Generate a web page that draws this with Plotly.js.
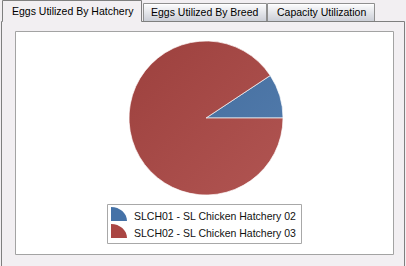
<!DOCTYPE html>
<html>
<head>
<meta charset="utf-8">
<script src="https://cdn.plot.ly/plotly-3.0.1.min.js"></script>
<style>
  html, body { margin: 0; padding: 0; background: #f2eff2; }
  #chart { width: 406px; height: 266px; }
</style>
</head>
<body>
<div id="chart"></div>
<script>
// Eggs utilized per hatchery (share of total)
const hatcheryLabels = ['SLCH01 - SL Chicken Hatchery 02', 'SLCH02 - SL Chicken Hatchery 03'];
const eggsUtilized = [9.3, 90.7];
const sliceColors = ['#4572A7', '#AA4643'];
const tabLabels = ['Eggs Utilized By Hatchery', 'Eggs Utilized By Breed', 'Capacity Utilization'];

const W = 406, H = 266;
const X = p => p / W;          // pixel -> paper x
const Y = p => 1 - p / H;      // pixel -> paper y
const FONT = 'Liberation Sans, Arial, sans-serif';

const shapes = [];
const annotations = [];

function rect(x0, y0, x1, y1, fill, line, layer) {
  shapes.push({
    type: 'rect', xref: 'paper', yref: 'paper',
    x0: X(x0), x1: X(x1), y0: Y(y0), y1: Y(y1),
    fillcolor: fill, line: line ? { color: line, width: 1 } : { width: 0 },
    layer: layer || 'below'
  });
}
function seg(x0, y0, x1, y1, color) {
  shapes.push({
    type: 'line', xref: 'paper', yref: 'paper',
    x0: X(x0), x1: X(x1), y0: Y(y0), y1: Y(y1),
    line: { color: color, width: 1 }, layer: 'below'
  });
}
function mix(a, b, t) {
  const pa = a.match(/\w\w/g).map(h => parseInt(h, 16));
  const pb = b.match(/\w\w/g).map(h => parseInt(h, 16));
  return 'rgb(' + pa.map((v, i) => Math.round(v + (pb[i] - v) * t)).join(',') + ')';
}

// Inactive tabs: vertical gradient built from thin strips
const inactiveTabs = [[143.5, 266.5], [267.5, 374.5]];
inactiveTabs.forEach(([a, b]) => {
  for (let y = 4; y < 21; y++) {
    rect(a, y, b, y + 1, mix('fbfbfc', 'cdd0d8', (y - 4) / 16), null);
  }
  seg(a, 3.5, b, 3.5, '#8f8f8f');
  seg(a, 3.5, a, 21, '#8f8f8f');
  seg(b, 3.5, b, 21, '#8f8f8f');
  seg(a + 1, 4.5, b - 1, 4.5, '#ffffff');
});

// Panel frame and active tab
const frame = '#7f7f7f';
seg(1.5, 21.5, 1.5, 266, frame);
seg(404.5, 21.5, 404.5, 266, frame);
seg(1.5, 21.5, 2.5, 21.5, frame);
seg(141.5, 21.5, 404.5, 21.5, frame);
seg(2.5, 0.5, 2.5, 21.5, frame);
seg(2.5, 0.5, 141.5, 0.5, frame);
seg(141.5, 0.5, 141.5, 21.5, frame);

// White chart area
rect(15.5, 31.5, 393.5, 254.5, '#ffffff', '#a3a3a3');

// Tab captions
const tabCenters = [[73, 11], [205, 12.5], [321, 12.5]];
tabLabels.forEach((t, i) => {
  annotations.push({
    text: t, xref: 'paper', yref: 'paper',
    x: X(tabCenters[i][0]), y: Y(tabCenters[i][1]),
    xanchor: 'center', yanchor: 'middle', showarrow: false,
    font: { family: FONT, size: 10.5, color: '#000000' }
  });
});

// Legend box with quarter-disc symbols
rect(107.5, 204.5, 301.5, 243.5, '#ffffff', '#a8a8a8', 'above');
const k = 0.5523;
hatcheryLabels.forEach((lab, i) => {
  const x0 = 111, yb = 221 + i * 17, rx = 16, ry = 14;
  const P = (x, y) => X(x) + ',' + Y(y);
  shapes.push({
    type: 'path', xref: 'paper', yref: 'paper', layer: 'above',
    path: 'M' + P(x0, yb) + ' L' + P(x0, yb - ry) +
          ' C' + P(x0 + k * rx, yb - ry) + ' ' + P(x0 + rx, yb - k * ry) + ' ' + P(x0 + rx, yb) + ' Z',
    fillcolor: sliceColors[i], line: { width: 0 }
  });
  annotations.push({
    text: lab, xref: 'paper', yref: 'paper',
    x: X(132), y: Y(215.5 + i * 17), xanchor: 'left', yanchor: 'middle',
    showarrow: false, font: { family: FONT, size: 10.5, color: '#111111' }
  });
});

// Soft diagonal shading over the pie disc
const cx = 206, cy = 118, r = 77;
const shadeSvg =
  '<svg xmlns="http://www.w3.org/2000/svg" width="154" height="154" viewBox="0 0 154 154">' +
  '<defs><linearGradient id="g" x1="0" y1="0" x2="1" y2="1">' +
  '<stop offset="0" stop-color="#000" stop-opacity="0.08"/>' +
  '<stop offset="1" stop-color="#fff" stop-opacity="0.08"/>' +
  '</linearGradient></defs><circle cx="77" cy="77" r="76.5" fill="url(#g)"/></svg>';

// First slice ends at 3 o'clock, rising above the horizontal
const total = eggsUtilized.reduce((s, v) => s + v, 0);
const startAngle = 90 - 360 * eggsUtilized[0] / total;

const trace = {
  type: 'pie',
  labels: hatcheryLabels,
  values: eggsUtilized,
  sort: false,
  direction: 'clockwise',
  rotation: startAngle,
  textinfo: 'none',
  hoverinfo: 'label+percent',
  marker: { colors: sliceColors, line: { color: 'rgba(255,255,255,0.7)', width: 1 } },
  domain: { x: [X(cx - r), X(cx + r)], y: [Y(cy + r), Y(cy - r)] }
};

const layout = {
  width: W, height: H,
  margin: { l: 0, r: 0, t: 0, b: 0 },
  paper_bgcolor: '#f2eff2',
  showlegend: false,
  shapes: shapes,
  annotations: annotations,
  images: [{
    source: 'data:image/svg+xml;charset=utf-8,' + encodeURIComponent(shadeSvg),
    xref: 'paper', yref: 'paper', x: X(cx - r), y: Y(cy - r),
    sizex: 2 * r / W, sizey: 2 * r / H, xanchor: 'left', yanchor: 'top',
    sizing: 'stretch', layer: 'above'
  }]
};

Plotly.newPlot('chart', [trace], layout, { displayModeBar: false, staticPlot: true });
</script>
</body>
</html>
